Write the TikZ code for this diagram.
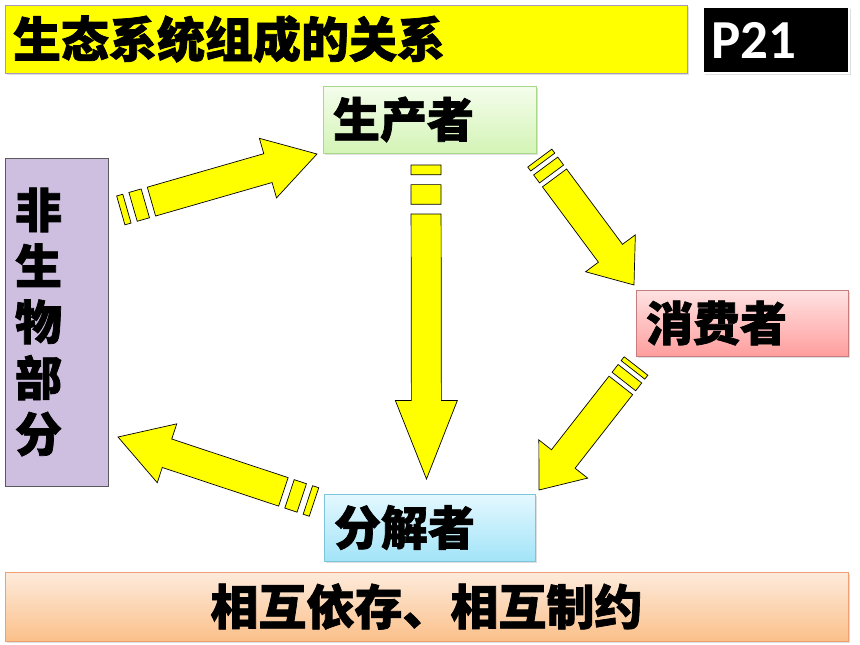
\documentclass[tikz,border=0pt]{standalone}
\usepackage{fontspec}
\newfontfamily\cjk{Noto Sans CJK SC}[BoldFeatures={FakeBold=1.5}]
\newfontfamily\pfont{Carlito}
\usetikzlibrary{shadows,calc}
\definecolor{arrowyellow}{HTML}{FFFF00}
\definecolor{titleyellow}{HTML}{FFFF00}
\definecolor{titleborder}{HTML}{A898B8}
\definecolor{prodtop}{HTML}{F4FDEC}
\definecolor{prodbot}{HTML}{D4F4B6}
\definecolor{prodborder}{HTML}{A8D88A}
\definecolor{constop}{HTML}{FFE2E2}
\definecolor{consbot}{HTML}{FF9E9E}
\definecolor{consborder}{HTML}{C87C7C}
\definecolor{dectop}{HTML}{E4F8FF}
\definecolor{decbot}{HTML}{A2E4F8}
\definecolor{decborder}{HTML}{7CC4D8}
\definecolor{bottop}{HTML}{FDEBDC}
\definecolor{botbot}{HTML}{FBC08A}
\definecolor{botborder}{HTML}{EEA072}
\definecolor{abiofill}{HTML}{CEBFE0}
\definecolor{abioborder}{HTML}{5A5A5A}
\tikzset{
  boxshadow/.style={drop shadow={opacity=0.25,shadow xshift=1.5pt,shadow yshift=-2pt}},
  cjktext/.style={font=\cjk\bfseries\fontsize{47}{56}\selectfont, text=black},
  gradbox/.style 2 args={rectangle, top color=#1, bottom color=#2, line width=0.8pt, boxshadow},
  blockarrow/.style={fill=arrowyellow, draw=black, line width=0.7pt, line join=miter}
}
\newcommand\sarrow[2]{%
  \path let \p1=(#1),\p2=(#2),\n1={atan2(\y2-\y1,\x2-\x1)},\n2={veclen(\x2-\x1,\y2-\y1)} in
    \pgfextra{\xdef\sAng{\n1}\xdef\sLen{\n2}};
  \begin{scope}[shift={(#1)},rotate=\sAng,x=1pt,y=1pt]
    \pgfmathsetmacro\La{\sLen/32}
    \pgfmathsetmacro\Lb{\sLen/16}
    \pgfmathsetmacro\Lc{\sLen/8}
    \pgfmathsetmacro\Ld{5*\sLen/32}
    \pgfmathsetmacro\Le{3*\sLen/4}
    \draw[blockarrow] (0,-15) rectangle (\La,15);
    \draw[blockarrow] (\Lb,-15) rectangle (\Lc,15);
    \draw[blockarrow] (\Ld,-15) -- (\Le,-15) -- (\Le,-31) -- (\sLen,0) -- (\Le,31) -- (\Le,15) -- (\Ld,15) -- cycle;
  \end{scope}}
\begin{document}
\begin{tikzpicture}[x=1pt,y=-1pt]
\useasboundingbox[fill=white] (0,0) rectangle (860,645);
% title
\node[rectangle, fill=titleyellow, draw=titleborder, line width=0.8pt, boxshadow,
      minimum width=682pt, minimum height=68pt, text width=666pt, align=left, inner xsep=8pt,
      font=\cjk\bfseries\fontsize{48}{56}\selectfont] (title) at (346,39) {生态系统组成的关系};
\node[rectangle, fill=black, draw=white, line width=2.5pt, boxshadow,
      minimum width=146pt, minimum height=66pt, text width=130pt, align=left, inner xsep=8pt,
      font=\pfont\bfseries\fontsize{55}{60}\selectfont, text=white] (page) at (776,40) {P21};
% nodes
\node[gradbox={prodtop}{prodbot}, draw=prodborder, minimum width=213pt, minimum height=67pt,
      text width=193pt, align=left, inner xsep=10pt, cjktext] (prod) at (429.5,119.5) {生产者};
\node[gradbox={constop}{consbot}, draw=consborder, minimum width=212pt, minimum height=66pt,
      text width=192pt, align=left, inner xsep=10pt, cjktext] (cons) at (742,323) {消费者};
\node[gradbox={dectop}{decbot}, draw=decborder, minimum width=211pt, minimum height=67pt,
      text width=191pt, align=left, inner xsep=10pt, cjktext] (dec) at (429.5,527.5) {分解者};
\node[rectangle, fill=abiofill, draw=abioborder, line width=0.8pt,
      minimum width=103pt, minimum height=328pt, text width=83pt, align=left, inner xsep=10pt,
      cjktext] (abio) at (56.5,322) {非\\生\\物\\部\\分};
\node[gradbox={bottop}{botbot}, draw=botborder, minimum width=843pt, minimum height=69pt,
      cjktext, font=\cjk\bfseries\fontsize{48}{56}\selectfont] (motto) at (426.5,606.5) {相互依存、相互制约};
% arrow end points
\coordinate (a1s) at (120.8,210.4);
\coordinate (a1e) at (317,154);
\coordinate (a2s) at (426,165);
\coordinate (a2e) at (426.5,479);
\coordinate (a3s) at (539.8,158.1);
\coordinate (a3e) at (634,285);
\coordinate (a4s) at (636,366);
\coordinate (a4e) at (539,490);
\coordinate (a5s) at (314,502);
\coordinate (a5e) at (118,437);
\sarrow{a1s}{a1e}
\sarrow{a2s}{a2e}
\sarrow{a3s}{a3e}
\sarrow{a4s}{a4e}
\sarrow{a5s}{a5e}
\end{tikzpicture}
\end{document}
